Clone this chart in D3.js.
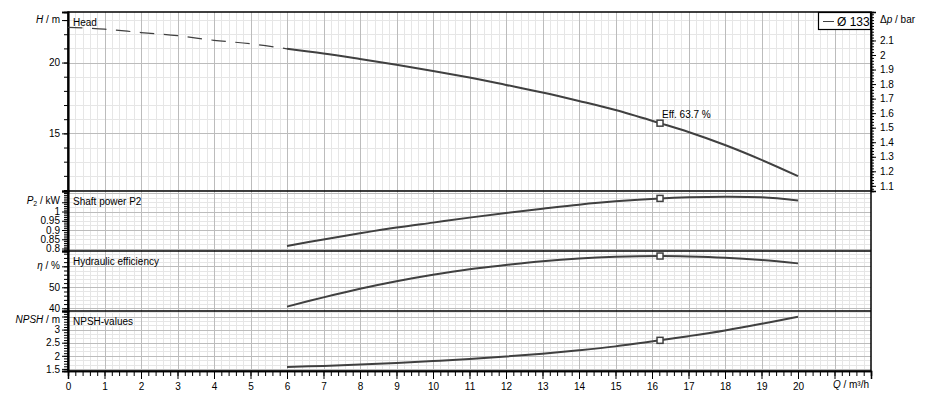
<!DOCTYPE html>
<html><head><meta charset="utf-8">
<script src="https://cdn.jsdelivr.net/npm/d3@7"></script>
<style>
body{margin:0;background:#fff;}
svg text{font-family:"Liberation Sans",Arial,sans-serif;font-size:10px;fill:#000;}
</style></head>
<body><svg id="c" width="939" height="401"></svg>
<script>
// ---- data ----
const qDash = [0, 1, 2, 3, 4, 5, 6];
const headDash = [22.49, 22.36, 22.12, 21.90, 21.57, 21.33, 20.97];
const q = [6, 7, 8, 9, 10, 11, 12, 13, 14, 15, 16.22, 17, 18, 19, 20];
const head = [20.97, 20.64, 20.25, 19.84, 19.41, 18.94, 18.42, 17.89, 17.29, 16.65, 15.72, 15.10, 14.18, 13.13, 11.98];
const power = [0.8135, 0.849, 0.882, 0.913, 0.940, 0.967, 0.992, 1.015, 1.037, 1.055, 1.071, 1.077, 1.080, 1.077, 1.060];
const eff = [40.8, 45.2, 49.3, 52.9, 56.0, 58.6, 60.6, 62.4, 63.7, 64.5, 64.9, 64.7, 64.1, 63.0, 61.4];
const npsh = [1.575, 1.615, 1.665, 1.728, 1.800, 1.880, 1.975, 2.080, 2.210, 2.360, 2.590, 2.750, 2.970, 3.220, 3.490];
const dutyQ = 16.22;
const dutyLabel = "Eff.  63.7 %";
const legendLabel = "Ø 133";
const xTickLabels = [0,1,2,3,4,5,6,7,8,9,10,11,12,13,14,15,16,17,18,19,20];
const headTickLabels = [15, 20];
const powerTickLabels = [0.8, 0.85, 0.9, 0.95, 1];
const effTickLabels = [40, 50];
const npshTickLabels = [1.5, 2, 2.5, 3];
const dpTickLabels = [1.1,1.2,1.3,1.4,1.5,1.6,1.7,1.8,1.9,2,2.1];
const barPerMeter = 0.0974;

// ---- layout ----
const L = 68, R = 871;
const bands = [12, 191, 251, 311, 371];
const svg = d3.select("#c");
const x = d3.scaleLinear().domain([0, 22]).range([L, R]);
const yH = d3.scaleLinear().domain([10.93, 23.57]).range([bands[1], bands[0]]);
const yDp = d3.scaleLinear().domain([10.93 * barPerMeter, 23.57 * barPerMeter]).range([bands[1], bands[0]]);
const yP = d3.scaleLinear().domain([0.7865, 1.111]).range([bands[2], bands[1]]);
const yE = d3.scaleLinear().domain([38.7, 67.3]).range([bands[3], bands[2]]);
const yN = d3.scaleLinear().domain([1.42, 3.71]).range([bands[4], bands[3]]);

const MINOR = "#e6e6e6", MAJOR = "#bcbcbc", LINE = "#404040";
const g = svg.append("g");

function rng(a, b, s) { const out = []; const n = Math.round((b - a) / s); for (let i = 0; i <= n; i++) out.push(+(a + i * s).toFixed(6)); return out; }

function hgrid(scale, minorStep, majorStep) {
  const [d0, d1] = scale.domain();
  rng(Math.ceil(d0 / minorStep) * minorStep, d1, minorStep).filter(v => v >= d0 && v <= d1).forEach(v => {
    if (Math.abs(v / majorStep - Math.round(v / majorStep)) < 1e-6) return;
    g.append("line").attr("x1", L).attr("x2", R).attr("y1", Math.round(scale(v)) + 0.5).attr("y2", Math.round(scale(v)) + 0.5).attr("stroke", MINOR);
  });
}
function hgridMajor(scale, majorStep) {
  const [d0, d1] = scale.domain();
  rng(Math.ceil(d0 / majorStep) * majorStep, d1, majorStep).filter(v => v >= d0 && v <= d1).forEach(v => {
    g.append("line").attr("x1", L).attr("x2", R).attr("y1", Math.round(scale(v)) + 0.5).attr("y2", Math.round(scale(v)) + 0.5).attr("stroke", MAJOR);
  });
}

// minor vertical grid
rng(0, 22, 0.2).forEach(v => {
  if (Math.abs(v - Math.round(v)) < 1e-6) return;
  g.append("line").attr("x1", Math.round(x(v)) + 0.5).attr("x2", Math.round(x(v)) + 0.5).attr("y1", bands[0]).attr("y2", bands[4]).attr("stroke", MINOR);
});
hgrid(yH, 1, 5);
hgrid(yP, 0.025, 0.1);
hgrid(yE, 2, 10);
hgrid(yN, 1 / 6, 0.5);
rng(1, 21, 1).forEach(v => {
  g.append("line").attr("x1", Math.round(x(v)) + 0.5).attr("x2", Math.round(x(v)) + 0.5).attr("y1", bands[0]).attr("y2", bands[4]).attr("stroke", MAJOR);
});
hgridMajor(yH, 5);
hgridMajor(yP, 0.1);
hgridMajor(yE, 10);
hgridMajor(yN, 0.5);

// panel separators and frame
bands.slice(1, 4).forEach(b => g.append("line").attr("x1", L).attr("x2", R).attr("y1", b).attr("y2", b).attr("stroke", "#000").attr("stroke-width", 1.5));
g.append("rect").attr("x", L).attr("y", bands[0]).attr("width", R - L).attr("height", bands[4] - bands[0]).attr("fill", "none").attr("stroke", "#000").attr("stroke-width", 1.5);

// ---- axes ----
g.append("g").attr("transform", `translate(0,${bands[4]})`)
  .call(d3.axisBottom(x).tickValues(rng(0, 22, 0.2)).tickSize(5).tickFormat(""));
g.append("g").attr("transform", `translate(0,${bands[4]})`)
  .call(d3.axisBottom(x).tickValues(rng(0, 22, 1)).tickSize(8).tickPadding(4)
    .tickFormat(d => xTickLabels.includes(d) ? d : ""));

function leftAxis(scale, minorStep, labels, extra) {
  const [d0, d1] = scale.domain();
  g.append("g").attr("transform", `translate(${L},0)`)
    .call(d3.axisLeft(scale).tickValues(rng(Math.ceil(d0 / minorStep) * minorStep, d1, minorStep).filter(v => v <= d1)).tickSize(4).tickFormat(""));
  g.append("g").attr("transform", `translate(${L},0)`)
    .call(d3.axisLeft(scale).tickValues(labels).tickSize(6).tickPadding(2).tickFormat(d => d));
  if (extra) g.append("g").attr("transform", `translate(${L},0)`)
    .call(d3.axisLeft(scale).tickValues(extra).tickSize(6).tickFormat(""));
}
leftAxis(yH, 1, headTickLabels, [23]);
leftAxis(yP, 0.01, powerTickLabels, [1.05]);
leftAxis(yE, 2, effTickLabels, [60]);
leftAxis(yN, 0.1, npshTickLabels, [3.5]);

// right Δp axis
const [dp0, dp1] = yDp.domain();
g.append("g").attr("transform", `translate(${R},0)`)
  .call(d3.axisRight(yDp).tickValues(rng(Math.ceil(dp0 / 0.02) * 0.02, dp1, 0.02).filter(v => v <= dp1)).tickSize(3).tickFormat(""));
g.append("g").attr("transform", `translate(${R},0)`)
  .call(d3.axisRight(yDp).tickValues(dpTickLabels).tickSize(5).tickPadding(4).tickFormat(d => d));

svg.selectAll(".domain").attr("stroke", "#000").attr("stroke-width", 1.5);
svg.selectAll(".tick line").attr("stroke", "#000");
svg.selectAll(".tick text").style("font-size", "10px").attr("fill", "#000");

// axis unit labels
function unitLabel(xp, yp, parts, anchor) {
  const t = g.append("text").attr("x", xp).attr("y", yp).attr("text-anchor", anchor || "end").attr("dominant-baseline", "middle");
  parts.forEach(p => { const s = t.append("tspan").text(p[0]); if (p[1]) s.attr("font-style", "italic"); if (p[2]) s.attr("baseline-shift", "sub").style("font-size", "7px"); });
}
unitLabel(60, yH(23), [["H", 1], [" / m"]]);
unitLabel(60, yP(1.055), [["P", 1], ["2", 0, 1], [" / kW"]]);
unitLabel(60, yE(60), [["η", 1], [" / %"]]);
unitLabel(60, yN(3.38), [["NPSH", 1], [" / m"]]);
unitLabel(880, yDp(2.24), [["Δ"], ["p", 1], [" / bar"]], "start");
unitLabel(869, bands[4] + 13.5, [["Q", 1], [" / m³/h"]]);

// panel titles
const titles = ["Head", "Shaft power P2", "Hydraulic efficiency", "NPSH-values"];
titles.forEach((t, i) => g.append("text").attr("x", L + 5).attr("y", bands[i] + 14).text(t));

// ---- curves ----
g.append("path").datum(qDash).attr("fill", "none").attr("stroke", LINE).attr("stroke-width", 1.2).attr("stroke-dasharray", "14.5,9.5")
  .attr("d", d3.line().x(d => x(d)).y((d, i) => yH(headDash[i])).curve(d3.curveCatmullRom.alpha(0.5)));
const series = [[head, yH], [power, yP], [eff, yE], [npsh, yN]];
series.forEach(([vals, sc]) => {
  g.append("path").datum(q).attr("fill", "none").attr("stroke", LINE).attr("stroke-width", 2)
    .attr("d", d3.line().x(d => x(d)).y((d, i) => sc(vals[i])).curve(d3.curveCatmullRom.alpha(0.5)));
  const k = q.indexOf(dutyQ);
  g.append("rect").attr("x", x(dutyQ) - 3).attr("y", sc(vals[k]) - 3).attr("width", 6).attr("height", 6)
    .attr("fill", "#fff").attr("stroke", LINE).attr("stroke-width", 1.5);
});
g.append("text").attr("x", x(dutyQ) + 2).attr("y", yH(head[q.indexOf(dutyQ)]) - 5).text(dutyLabel).attr("fill", "#222");

// legend
const lg = g.append("g");
lg.append("rect").attr("x", 818.5).attr("y", 12.5).attr("width", 52).attr("height", 17).attr("fill", "#fff").attr("stroke", "#000").attr("stroke-width", 1.2);
lg.append("line").attr("x1", 823).attr("x2", 834).attr("y1", 21.5).attr("y2", 21.5).attr("stroke", LINE).attr("stroke-width", 1);
lg.append("text").attr("x", 837).attr("y", 25.5).text(legendLabel).style("font-size", "12px");
</script></body></html>
